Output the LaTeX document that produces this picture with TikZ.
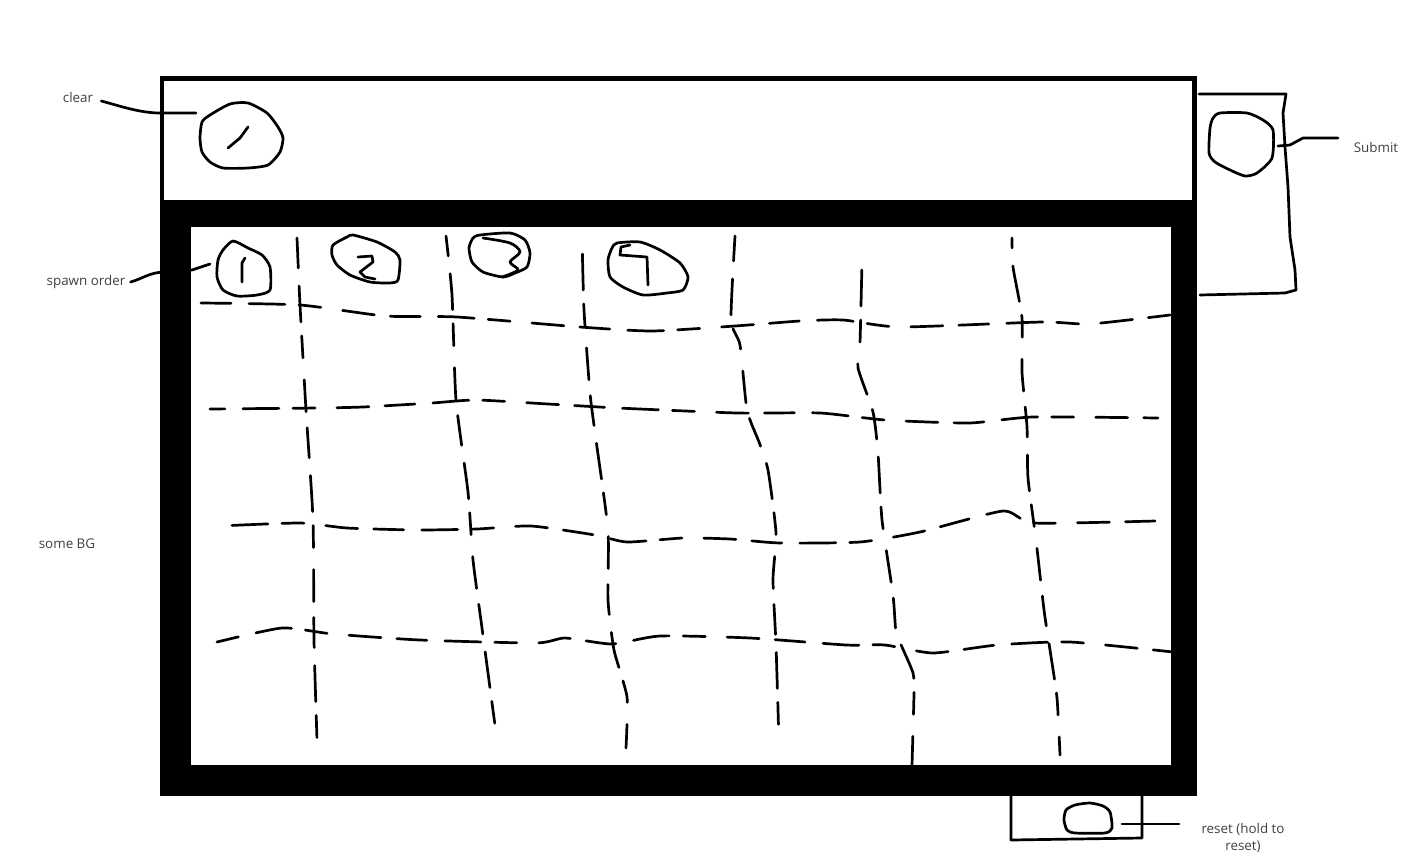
\documentclass[tikz,border=0pt]{standalone}
\usepackage{fontspec}
\newfontfamily\uifont{Open Sans}
\usetikzlibrary{positioning}

\begin{document}
\begin{tikzpicture}[x=1pt,y=-1pt,line cap=round,line join=round,
    pen/.style={line width=2.7pt},
    gridln/.style={pen,dash pattern=on 30pt off 18pt on 36pt off 14pt on 22pt off 22pt on 32pt off 16pt},
    lbl/.style={text=black!75,font=\uifont\fontsize{13.4}{17}\selectfont,inner sep=0pt}]
  \useasboundingbox (0,0) rectangle (1407,851);
  \clip (0,0) rectangle (1407,851);

  % frame, top bar and play area
  \fill[black] (160,76) rectangle (1197,796);
  \fill[white] (164,80.5) rectangle (1192,200);
  \fill[white] (191,227) rectangle (1171,765);

  % grid (hand drawn, dashed)
  \draw[gridln] plot[smooth,tension=0.35] coordinates {(297,238) (300,305) (306,410) (313,520) (314,640) (317,740)};
  \draw[gridln,dash phase=10pt] plot[smooth,tension=0.35] coordinates {(446,236) (452,295) (456,400) (468,492) (473,560) (482,628) (490,688) (497,740)};
  \draw[gridln,dash phase=30pt] plot[smooth,tension=0.35] coordinates {(582,236) (584,310) (590,393) (596,440) (608,530) (608,600) (614,650) (627,697) (626,748)};
  \draw[gridln,dash phase=5pt] plot[smooth,tension=0.35] coordinates {(735,236) (731,320) (740,345) (747,410) (759,442) (768,470) (776,533) (773,580) (776,645) (779,743)};
  \draw[gridln,dash phase=40pt] plot[smooth,tension=0.35] coordinates {(862,262) (860,343) (858,368) (873,412) (878,453) (882,520) (893,595) (896,633) (902,647) (913,673) (914,693) (912,765)};
  \draw[gridln,dash phase=20pt] plot[smooth,tension=0.35] coordinates {(1012,238) (1013,267) (1022,318) (1022,372) (1027,427) (1028,478) (1036,540) (1044,610) (1050,650) (1057,698) (1060,755)};
  \draw[gridln] plot[smooth,tension=0.35] coordinates {(201,303) (300,305) (385,316) (457,317) (580,327) (652,331) (735,326) (800,321) (843,320) (900,327) (1042,322) (1090,324) (1170,315)};
  \draw[gridln,dash phase=15pt] plot[smooth,tension=0.35] coordinates {(210,409) (317,408) (363,407) (432,403) (476,400) (548,404) (618,408) (737,413) (820,413) (885,420) (969,423) (1033,417) (1158,418)};
  \draw[gridln,dash phase=35pt] plot[smooth,tension=0.35] coordinates {(219,526) (300,523) (347,528) (417,530) (477,529) (531,526) (595,535) (627,542) (683,538) (730,539) (780,543) (860,542) (920,532) (1003,511) (1034,523) (1155,521)};
  \draw[gridln,dash phase=8pt] plot[smooth,tension=0.35] coordinates {(217,642) (282,628) (333,634) (420,640) (536,643) (565,638) (612,644) (660,636) (750,638) (846,645) (885,645) (933,653) (997,645) (1070,642) (1173,652)};

  % clear button
  \draw[pen] plot[smooth cycle,tension=0.4] coordinates {(230,104) (248,103) (267,113) (278,127) (283,138) (280,152) (268,165) (248,168) (223,168) (210,162) (202,152) (200,138) (202,122) (210,115)};
  \draw[pen] (228,148) -- (240,138) -- (248,127);
  \coordinate (clearbtn) at (196,113);

  % spawn order
  \draw[pen] plot[smooth cycle,tension=0.4] coordinates {(233,241) (248,248) (262,255) (270,267) (270,290) (257,295) (237,296) (223,290) (217,277) (218,260) (223,250)};
  \draw[pen] (245,258) -- (242,263) -- (242,282);
  \draw[pen] plot[smooth cycle,tension=0.4] coordinates {(353,235) (377,242) (395,252) (400,260) (398,280) (390,283) (370,282) (350,275) (337,265) (332,255) (333,245) (347,237)};
  \draw[pen] (358,257) -- (372,256) -- (373,262) -- (360,272) -- (365,277) -- (375,279);
  \draw[pen] plot[smooth cycle,tension=0.4] coordinates {(480,235) (510,233) (525,240) (530,253) (527,267) (515,273) (503,277) (483,272) (472,262) (469,248) (473,238)};
  \draw[pen] plot[smooth,tension=0.5] coordinates {(483,238) (510,243) (520,252) (510,262) (518,270) (502,277)};
  \draw[pen] plot[smooth cycle,tension=0.4] coordinates {(617,243) (640,242) (660,250) (680,263) (688,277) (683,290) (667,293) (643,295) (623,287) (610,277) (608,260) (612,248)};
  \draw[pen] (630,245) -- (621,247) -- (620,255) -- (647,257) -- (648,285);
  \coordinate (spawnbtn) at (210,264);

  % submit
  \draw[pen] (1199,94) -- (1286,94) -- (1283,113) -- (1285,147) -- (1288,187) -- (1290,237) -- (1295,270) -- (1296,290) -- (1285,293) -- (1200,295);
  \draw[pen] plot[smooth cycle,tension=0.4] coordinates {(1220,113) (1247,113) (1263,120) (1273,130) (1272,158) (1257,173) (1245,176) (1230,170) (1215,162) (1209,153) (1210,128) (1213,118)};
  \coordinate (submitbtn) at (1278,146);

  % reset
  \draw[pen] (1011,796) -- (1011,840) -- (1142,838) -- (1142,796);
  \draw[pen] plot[smooth cycle,tension=0.4] coordinates {(1075,805) (1090,803) (1103,806) (1110,812) (1112,828) (1105,833) (1075,833) (1067,830) (1064,820) (1066,810)};
  \coordinate (resetbtn) at (1122,824);

  % labels
  \node[lbl] (clear) at (78,97) {clear};
  \node[lbl] (spawn) at (86,282) {spawn order};
  \node[lbl] (bg) at (67,544) {some BG};
  \node[lbl] (submit) at (1376,147) {Submit};
  \node[lbl,align=center] (reset) at (1243,838) {reset (hold to\\reset)};

  \draw[pen] ([xshift=8pt,yshift=-4pt]clear.east) .. controls (120,106) and (140,113) .. (160,113) -- (clearbtn);
  \draw[pen] ([xshift=5pt]spawn.east) .. controls (142,279) and (150,272) .. (165,272) -- (192,270) -- (spawnbtn);
  \draw[pen] (submitbtn) -- (1290,145) -- (1303,138) -- (1338,138);
  \draw[pen] (resetbtn) -- (1179,824);
\end{tikzpicture}
\end{document}
